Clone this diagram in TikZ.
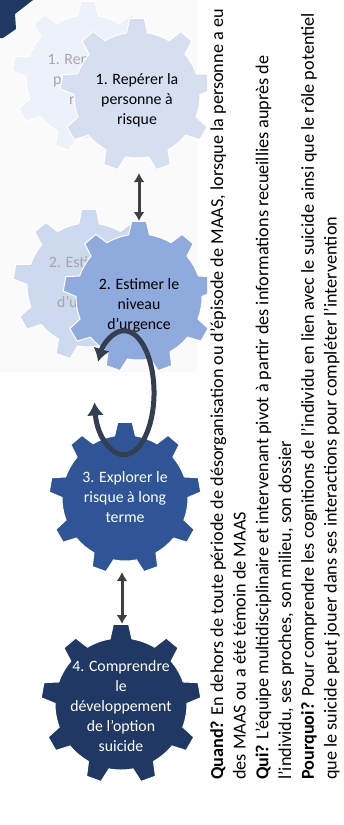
\documentclass[tikz,border=0pt]{standalone}
\usepackage{fontspec}
\setmainfont{Carlito}
\usetikzlibrary{arrows.meta}
\definecolor{gOne}{HTML}{D6DFF0}
\definecolor{gOneGhost}{HTML}{EDF1F9}
\definecolor{gTwo}{HTML}{8FAADC}
\definecolor{gTwoGhost}{HTML}{CDD9EF}
\definecolor{gThree}{HTML}{2F5597}
\definecolor{gFour}{HTML}{203864}
\definecolor{loopc}{HTML}{333F50}
\definecolor{arrc}{HTML}{404040}
\definecolor{ghosttext}{HTML}{A6A6A6}
\definecolor{panelbg}{HTML}{FAFAFA}
\newcommand\gearfill[5]{%
  \fill[#5, draw=white, line width=1pt, shift={(#1,#2)}]
    ({260.5}:#3)
    \foreach \k in {0,...,8}{
      -- ({270+40*\k-5.5}:#4) -- ({270+40*\k+5.5}:#4) -- ({270+40*\k+9.5}:#3)
      arc[start angle={270+40*\k+9.5}, end angle={270+40*\k+30.5}, radius=#3]
    } -- cycle;
}
\tikzset{
  gtext/.style={align=center, inner sep=0pt, font=\fontsize{15.8}{20}\selectfont},
  rtext/.style={rotate=90, anchor=base west, inner sep=0pt, font=\fontsize{18.2}{22}\selectfont},
  dbl/.style={arrc, line width=3pt, {Latex[length=9pt,width=11pt]}-{Latex[length=9pt,width=11pt]}},
  loopar/.style={loopc, line width=5pt, {Latex[length=13pt,width=17pt]}-{Latex[length=13pt,width=17pt]}}
}
\begin{document}
\begin{tikzpicture}[x=1pt,y=-1pt]
\useasboundingbox (0,0) rectangle (344,825);
\fill[white] (0,0) rectangle (344,825);
\fill[panelbg] (0,0) rectangle (197,372);
% corner gear fragment
\fill[gFour] (0,0) -- (33,0) -- (15,14) -- (16,29) -- (3,38) -- (0,38) -- cycle;
\begin{scope}
\clip (0,0) rectangle (207,825);
\gearfill{88}{77}{62}{76}{gOneGhost}
\node[gtext, text=ghosttext] (h1) at (89,80) {1. Repérer la\\personne à\\risque};
\gearfill{137}{95}{63}{77}{gOne}
\node[gtext, text=black] (g1) at (137,100) {1. Repérer la\\personne à\\risque};
\gearfill{89}{285}{62}{76}{gTwoGhost}
\node[gtext, text=ghosttext] (h2) at (89,283) {2. Estimer le\\niveau\\d’urgence};
\gearfill{139}{297}{63}{76}{gTwo}
\node[gtext, text=black] (g2) at (139,305) {2. Estimer le\\niveau\\d’urgence};
\gearfill{125}{498}{63}{76}{gThree}
\node[gtext, text=white] (g3) at (125,497) {3. Explorer le\\risque à long\\terme};
\gearfill{121}{704}{66}{80}{gFour}
\node[gtext, text=white] (g4) at (121,706) {4. Comprendre\\le\\développement\\de l’option\\suicide};
\end{scope}
% connectors
\coordinate (a1s) at (139,173);
\coordinate (a1e) at (139,221);
\coordinate (a3s) at (122,572);
\coordinate (a3e) at (122,624);
\draw[dbl] (a1s) -- (a1e);
\draw[dbl] (a3s) -- (a3e);
\coordinate (lc) at (124,393);
\draw[loopar] ([shift={(-29.6,9.4)}]lc) arc[start angle=171, end angle=-150, x radius=30, y radius=62];
% right text
\node[rtext] (t1) at (223,780) {\textbf{Quand?} En dehors de toute période de désorganisation ou d’épisode de MAAS, lorsque la personne a eu};
\node[rtext] (t2) at (245.7,780) {des MAAS ou a été témoin de MAAS};
\node[rtext] (t3) at (268.4,780) {\textbf{Qui?} L’équipe multidisciplinaire et intervenant pivot à partir des informations recueillies auprès de};
\node[rtext] (t4) at (291,780) {l’individu, ses proches, son milieu, son dossier};
\node[rtext] (t5) at (313.8,780) {\textbf{Pourquoi?} Pour comprendre les cognitions de l’individu en lien avec le suicide ainsi que le rôle potentiel};
\node[rtext] (t6) at (336.5,780) {que le suicide peut jouer dans ses interactions pour compléter l’intervention};
\end{tikzpicture}
\end{document}
